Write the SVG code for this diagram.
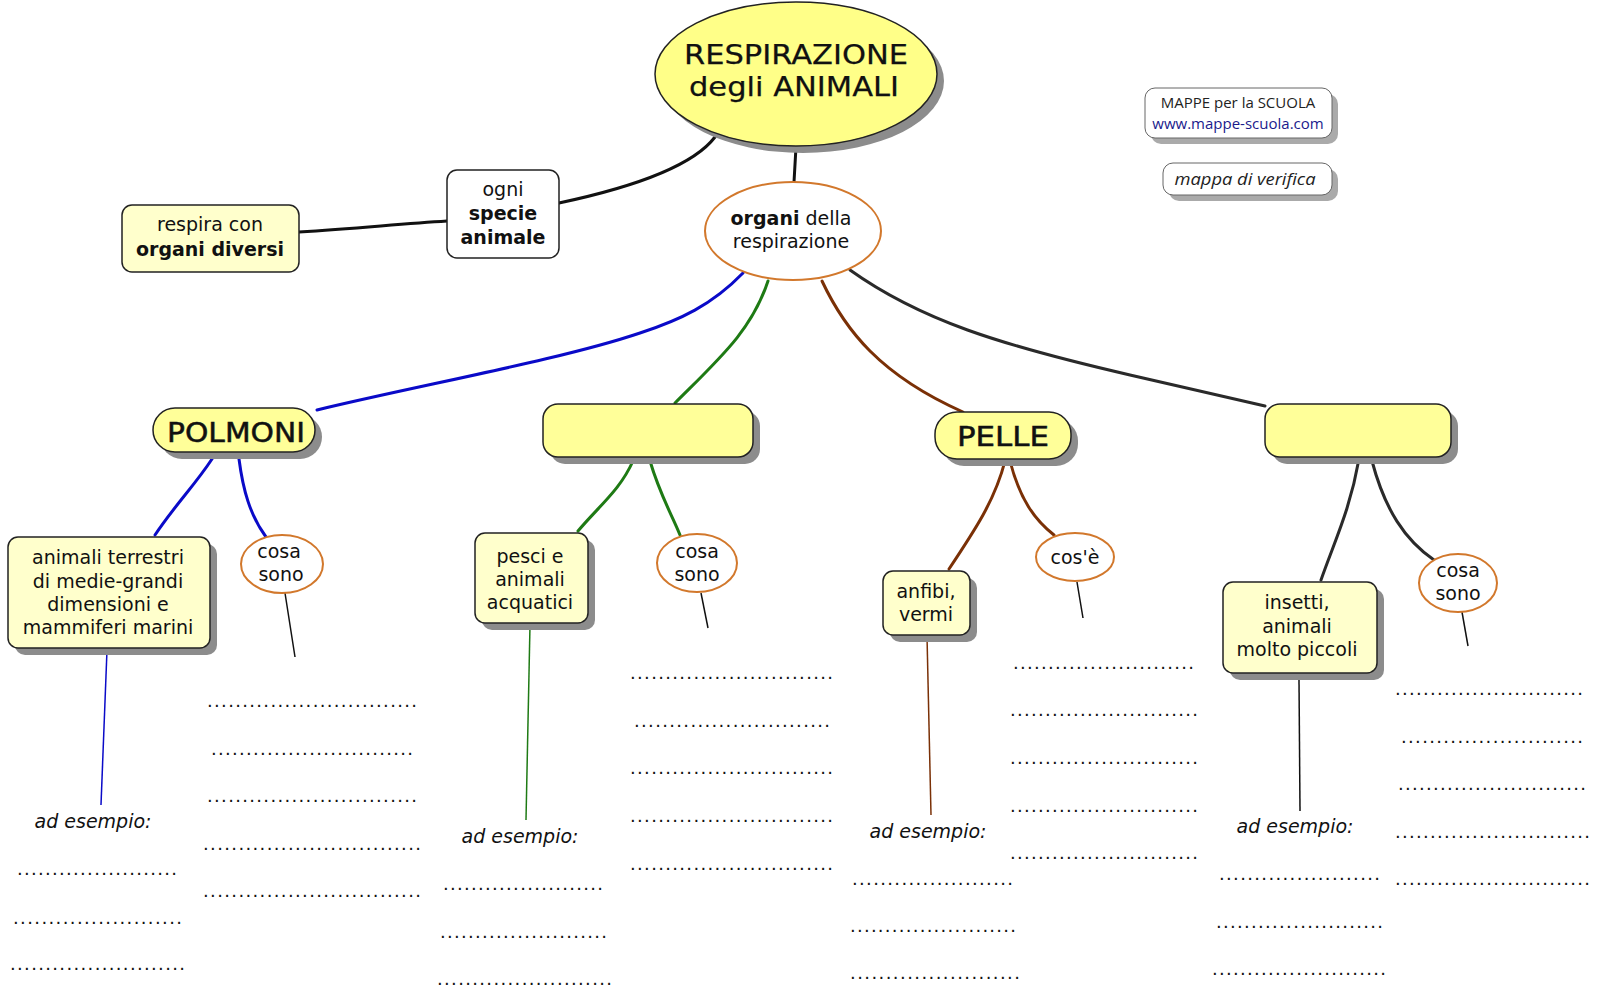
<svg xmlns="http://www.w3.org/2000/svg" width="1600" height="994" viewBox="0 0 1600 994">
<style>
.t{font-family:"DejaVu Sans",Verdana,sans-serif;font-size:19px;fill:#111;text-anchor:middle}
.b{font-weight:bold}
.it{font-style:italic}
.big{font-size:27px}
.dots{font-family:"DejaVu Sans",Verdana,sans-serif;font-size:18px;fill:#111}
.sh{fill:#8c8c8c}
.yb{fill:#ffffcc;stroke:#222;stroke-width:1.5}
.y2{fill:#ffff99;stroke:#222;stroke-width:1.5}
.ov{fill:#fff;stroke:#d2782c;stroke-width:2}
.c{fill:none;stroke-width:3;stroke-linecap:round}
.thin{fill:none;stroke-width:1.5}
.sans{font-family:"Open Sans","Noto Sans",sans-serif;font-size:15px;fill:#222;text-anchor:middle}
.lbl{stroke:#111;stroke-width:0.5}
.lt{stroke:#111;stroke-width:0.25}
</style>
<rect width="1600" height="994" fill="#fff"/>
<g id="connectors">
<path class="c" stroke="#111" d="M796,147 L794,182"/>
<path class="c" stroke="#111" d="M559,203 C620,190 690,170 715,137"/>
<path class="c" stroke="#111" d="M299,232 C360,228 400,224 447,221"/>
<path class="c" stroke="#0a0ac8" d="M743,273 C712,305 680,320 640,333 C560,360 420,385 317,410"/>
<path class="c" stroke="#1e7a14" d="M768,281 C752,330 720,358 675,403"/>
<path class="c" stroke="#7a3006" d="M822,281 C845,330 880,375 963,412"/>
<path class="c" stroke="#2a2a2a" d="M850,270 C920,320 1000,345 1130,375 L1265,406"/>
<path class="c" stroke="#0a0ac8" d="M212,459 C195,485 175,505 155,535"/>
<path class="c" stroke="#0a0ac8" d="M239,459 C243,490 250,515 266,537"/>
<path class="c" stroke="#1e7a14" d="M633,461 C620,490 600,505 578,531"/>
<path class="c" stroke="#1e7a14" d="M650,461 C660,495 672,515 680,535"/>
<path class="c" stroke="#7a3006" d="M1005,461 C995,500 975,530 949,569"/>
<path class="c" stroke="#7a3006" d="M1010,461 C1020,500 1035,520 1054,535"/>
<path class="c" stroke="#2a2a2a" d="M1359,459 C1350,510 1335,540 1321,580"/>
<path class="c" stroke="#2a2a2a" d="M1372,461 C1385,510 1405,540 1434,560"/>
<path class="thin" stroke="#0a0ac8" d="M107,650 L101,805"/>
<path class="thin" stroke="#111" d="M285,593 L295,657"/>
<path class="thin" stroke="#1e7a14" d="M530,625 L526,820"/>
<path class="thin" stroke="#111" d="M701,593 L708,628"/>
<path class="thin" stroke="#7a3006" d="M927,636 L931,815"/>
<path class="thin" stroke="#111" d="M1077,582 L1083,618"/>
<path class="thin" stroke="#111" d="M1299,680 L1300,811"/>
<path class="thin" stroke="#111" d="M1462,612 L1468,646"/>
</g>
<g id="main">
<ellipse class="sh" cx="803" cy="81" rx="141" ry="72"/>
<ellipse cx="796" cy="74" rx="141" ry="72" fill="#ffff88" stroke="#222" stroke-width="1.5"/>
<text class="t big lt" x="796" y="64" textLength="224" lengthAdjust="spacingAndGlyphs">RESPIRAZIONE</text>
<text class="t big lt" x="794" y="96" textLength="210" lengthAdjust="spacingAndGlyphs">degli ANIMALI</text>
</g>
<g id="respira">
<rect class="yb" x="122" y="205" width="177" height="67" rx="10"/>
<text class="t" x="210" y="231">respira con</text>
<text class="t b" x="210" y="256">organi diversi</text>
</g>
<g id="ogni">
<rect x="447" y="170" width="112" height="88" rx="10" fill="#fff" stroke="#222" stroke-width="1.5"/>
<text class="t" x="503" y="196">ogni</text>
<text class="t b" x="503" y="220">specie</text>
<text class="t b" x="503" y="244">animale</text>
</g>
<g id="mappe">
<rect x="1151" y="94" width="187" height="50" rx="10" fill="#aaa"/>
<rect x="1145" y="88" width="187" height="50" rx="10" fill="#fff" stroke="#666" stroke-width="1"/>
<text class="sans" x="1238" y="108">MAPPE per la SCUOLA</text>
<text class="sans" x="1238" y="129" style="fill:#1a1a8c">www.mappe-scuola.com</text>
</g>
<g id="verifica">
<rect x="1169" y="169" width="169" height="32" rx="10" fill="#aaa"/>
<rect x="1163" y="163" width="169" height="32" rx="10" fill="#fff" stroke="#666" stroke-width="1"/>
<text class="sans it" x="1245" y="185" style="font-size:16px" textLength="141" lengthAdjust="spacingAndGlyphs">mappa di verifica</text>
</g>
<g id="organi">
<ellipse class="ov" cx="793" cy="231" rx="88" ry="49"/>
<text class="t" x="791" y="225"><tspan class="b">organi</tspan> della</text>
<text class="t" x="791" y="248">respirazione</text>
</g>
<g id="polmoni">
<rect class="sh" x="160" y="415" width="162" height="44" rx="22"/>
<rect class="y2" x="153" y="408" width="162" height="44" rx="22"/>
<text class="t lbl" x="236" y="442" style="font-size:27px" textLength="138" lengthAdjust="spacingAndGlyphs">POLMONI</text>
</g>
<g id="branchie">
<rect class="sh" x="550" y="411" width="210" height="53" rx="15"/>
<rect class="y2" x="543" y="404" width="210" height="53" rx="15"/>
</g>
<g id="pelle">
<rect class="sh" x="942" y="419" width="136" height="47" rx="22"/>
<rect class="y2" x="935" y="412" width="136" height="47" rx="22"/>
<text class="t lbl" x="1003" y="446" style="font-size:27px" textLength="92" lengthAdjust="spacingAndGlyphs">PELLE</text>
</g>
<g id="trachee">
<rect class="sh" x="1272" y="411" width="186" height="53" rx="15"/>
<rect class="y2" x="1265" y="404" width="186" height="53" rx="15"/>
</g>
<g id="animali">
<rect class="sh" x="15" y="544" width="202" height="111" rx="10"/>
<rect class="yb" x="8" y="537" width="202" height="111" rx="10"/>
<text class="t" x="108" y="564">animali terrestri</text>
<text class="t" x="108" y="588">di medie-grandi</text>
<text class="t" x="108" y="611">dimensioni e</text>
<text class="t" x="108" y="634">mammiferi marini</text>
</g>
<g id="cosa1">
<ellipse class="ov" cx="282" cy="564" rx="41" ry="29"/>
<text class="t" x="279" y="558">cosa</text>
<text class="t" x="281" y="581">sono</text>
</g>
<g id="pesci">
<rect class="sh" x="482" y="540" width="113" height="90" rx="10"/>
<rect class="yb" x="475" y="533" width="113" height="90" rx="10"/>
<text class="t" x="530" y="563">pesci e</text>
<text class="t" x="530" y="586">animali</text>
<text class="t" x="530" y="609">acquatici</text>
</g>
<g id="cosa2">
<ellipse class="ov" cx="697" cy="563" rx="40" ry="29"/>
<text class="t" x="697" y="558">cosa</text>
<text class="t" x="697" y="581">sono</text>
</g>
<g id="anfibi">
<rect class="sh" x="890" y="578" width="87" height="64" rx="10"/>
<rect class="yb" x="883" y="571" width="87" height="64" rx="10"/>
<text class="t" x="926" y="598">anfibi,</text>
<text class="t" x="926" y="621">vermi</text>
</g>
<g id="cose">
<ellipse class="ov" cx="1075" cy="557" rx="39" ry="24"/>
<text class="t" x="1075" y="564">cos'è</text>
</g>
<g id="insetti">
<rect class="sh" x="1230" y="589" width="154" height="91" rx="10"/>
<rect class="yb" x="1223" y="582" width="154" height="91" rx="10"/>
<text class="t" x="1297" y="609">insetti,</text>
<text class="t" x="1297" y="633">animali</text>
<text class="t" x="1297" y="656">molto piccoli</text>
</g>
<g id="cosa3">
<ellipse class="ov" cx="1458" cy="583" rx="39" ry="29"/>
<text class="t" x="1458" y="577">cosa</text>
<text class="t" x="1458" y="600">sono</text>
</g>
<g id="esempi">
<text class="t it" x="93" y="828">ad esempio:</text>
<text class="t it" x="520" y="843">ad esempio:</text>
<text class="t it" x="928" y="838">ad esempio:</text>
<text class="t it" x="1295" y="833">ad esempio:</text>
</g>
<g id="dotlines" class="dots">
<text x="17" y="875" textLength="160" lengthAdjust="spacing">.......................</text>
<text x="13" y="924" textLength="169" lengthAdjust="spacing">........................</text>
<text x="10" y="970" textLength="175" lengthAdjust="spacing">.........................</text>
<text x="207" y="707" textLength="210" lengthAdjust="spacing">..............................</text>
<text x="211" y="755" textLength="202" lengthAdjust="spacing">.............................</text>
<text x="207" y="802" textLength="210" lengthAdjust="spacing">..............................</text>
<text x="203" y="850" textLength="218" lengthAdjust="spacing">...............................</text>
<text x="203" y="897" textLength="218" lengthAdjust="spacing">...............................</text>
<text x="443" y="890" textLength="160" lengthAdjust="spacing">.......................</text>
<text x="440" y="938" textLength="167" lengthAdjust="spacing">........................</text>
<text x="437" y="985" textLength="175" lengthAdjust="spacing">.........................</text>
<text x="630" y="679" textLength="203" lengthAdjust="spacing">.............................</text>
<text x="634" y="727" textLength="196" lengthAdjust="spacing">............................</text>
<text x="630" y="774" textLength="203" lengthAdjust="spacing">.............................</text>
<text x="630" y="822" textLength="203" lengthAdjust="spacing">.............................</text>
<text x="630" y="870" textLength="203" lengthAdjust="spacing">.............................</text>
<text x="852" y="885" textLength="161" lengthAdjust="spacing">.......................</text>
<text x="850" y="932" textLength="166" lengthAdjust="spacing">........................</text>
<text x="850" y="979" textLength="170" lengthAdjust="spacing">........................</text>
<text x="1013" y="669" textLength="181" lengthAdjust="spacing">..........................</text>
<text x="1010" y="716" textLength="188" lengthAdjust="spacing">...........................</text>
<text x="1010" y="764" textLength="188" lengthAdjust="spacing">...........................</text>
<text x="1010" y="812" textLength="188" lengthAdjust="spacing">...........................</text>
<text x="1010" y="859" textLength="188" lengthAdjust="spacing">...........................</text>
<text x="1219" y="880" textLength="161" lengthAdjust="spacing">.......................</text>
<text x="1216" y="928" textLength="167" lengthAdjust="spacing">........................</text>
<text x="1212" y="975" textLength="174" lengthAdjust="spacing">.........................</text>
<text x="1395" y="695" textLength="188" lengthAdjust="spacing">...........................</text>
<text x="1401" y="743" textLength="182" lengthAdjust="spacing">..........................</text>
<text x="1398" y="790" textLength="188" lengthAdjust="spacing">...........................</text>
<text x="1395" y="838" textLength="195" lengthAdjust="spacing">............................</text>
<text x="1395" y="885" textLength="195" lengthAdjust="spacing">............................</text>
</g>
</svg>
